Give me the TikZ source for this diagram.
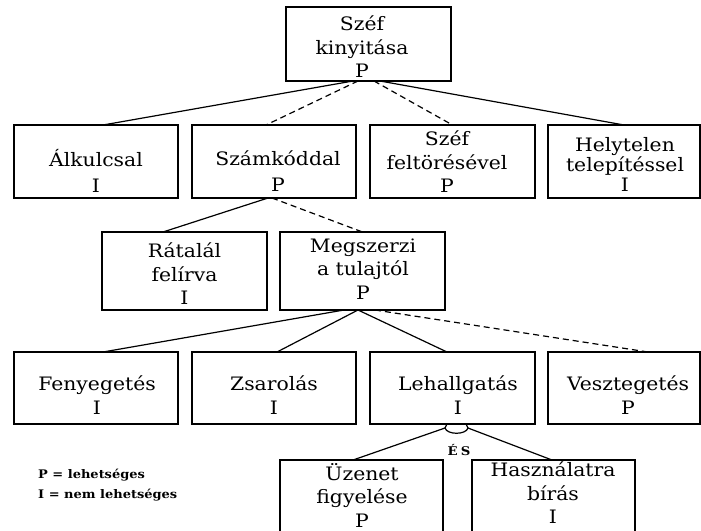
\documentclass[tikz,border=0pt]{standalone}
\usepackage{fontspec}
\setmainfont{DejaVu Serif}[FakeStretch=1.1]
\usetikzlibrary{calc}
\begin{document}
\begin{tikzpicture}[x=1pt,y=-1pt,
  box/.style={draw, line width=1.4pt, rectangle, inner sep=0pt, outer sep=0pt, minimum height=73pt},
  txt/.style={align=center, inner sep=0pt, font=\fontsize{18.5}{23.5}\selectfont},
  txtb/.style={align=center, inner sep=0pt, font=\fontsize{18.5}{26}\selectfont},
  conn/.style={line width=1.2pt},
  dconn/.style={line width=1.2pt, dash pattern=on 6pt off 4pt}]
\fill[white] (0,0) rectangle (701,530);
\useasboundingbox (0,0) rectangle (701,530);
\clip (0,0) rectangle (701,530);
% boxes
\node[box, minimum width=165pt, minimum height=74pt] (top) at (368.5,44) {};
\node[box, minimum width=164pt] (alk) at (96,161.5) {};
\node[box, minimum width=164pt] (szam) at (274,161.5) {};
\node[box, minimum width=165pt] (szef) at (452.5,161.5) {};
\node[box, minimum width=152pt] (hely) at (624,161.5) {};
\node[box, minimum width=165pt, minimum height=78pt] (rat) at (184.5,271) {};
\node[box, minimum width=165pt, minimum height=78pt] (meg) at (362.5,271) {};
\node[box, minimum width=164pt, minimum height=72pt] (feny) at (96,388) {};
\node[box, minimum width=164pt, minimum height=72pt] (zsar) at (274,388) {};
\node[box, minimum width=165pt, minimum height=72pt] (leh) at (452.5,388) {};
\node[box, minimum width=152pt, minimum height=72pt] (veszt) at (624,388) {};
\node[box, minimum width=163pt, minimum height=100pt] (uz) at (361.5,510) {};
\node[box, minimum width=163pt, minimum height=100pt] (hasz) at (553.5,510) {};
% texts
\node[txt] (ttop) at (362,47) {Széf\\kinyitása\\P};
\node[txtb] (talk) at (96,171) {Álkulcsal\\I};
\node[txtb] (tszam) at (278,171) {Számkóddal\\P};
\node[txt] (tszef) at (447,162) {Széf\\feltörésével\\P};
\node[txt, font=\fontsize{18.5}{20}\selectfont] (thely) at (625,164) {Helytelen\\telepítéssel\\I};
\node[txt] (trat) at (184.5,274) {Rátalál\\felírva\\I};
\node[txt] (tmeg) at (363,269) {Megszerzi\\a tulajtól\\P};
\node[txt] (tfeny) at (97,395) {Fenyegetés\\I};
\node[txt] (tzsar) at (274,395) {Zsarolás\\I};
\node[txt] (tleh) at (458,395) {Lehallgatás\\I};
\node[txt] (tveszt) at (628,395) {Vesztegetés\\P};
\node[txt] (tuz) at (362,495) {Üzenet\\figyelése\\P};
\node[txt] (thasz) at (553,493) {Használatra\\bírás\\I};
% legend and label
\node[align=left, anchor=west, inner sep=0pt, font=\bfseries\fontsize{11.8}{20}\selectfont] (legend) at (38,485) {P = lehetséges\\I = nem lehetséges};
\node[inner sep=0pt, font=\bfseries\fontsize{12}{14}\selectfont] (es) at (459,450) {É\kern3pt S};
% connectors
\draw[conn] ([xshift=-15.5pt]top.south) -- ([xshift=7pt]alk.north);
\draw[dconn] ([xshift=-10.5pt]top.south) -- ([xshift=-8pt]szam.north);
\draw[dconn] ([xshift=5.5pt]top.south) -- (szef.north);
\draw[conn] ([xshift=11.5pt]top.south) -- (hely.north);
\draw[conn] ([xshift=-6pt]szam.south) -- ([xshift=-21.5pt]rat.north);
\draw[dconn] ([xshift=-2pt]szam.south) -- (meg.north);
\draw[conn] ([xshift=-18.5pt]meg.south) -- ([xshift=7pt]feny.north);
\draw[conn] ([xshift=-4.5pt]meg.south) -- ([xshift=3pt]zsar.north);
\draw[conn] ([xshift=-4.5pt]meg.south) -- ([xshift=-5.5pt]leh.north);
\draw[dconn] ([xshift=12.5pt]meg.south) -- ([xshift=24pt]veszt.north);
% AND arc
\coordinate (andL) at ([xshift=-7.5pt,yshift=-4pt]leh.south);
\coordinate (andR) at ([xshift=15.5pt,yshift=-4pt]leh.south);
\draw[conn] ([xshift=-5.5pt]leh.south) -- (andL) .. controls +(2,7) and +(-2,7) .. (andR) -- ([xshift=13.5pt]leh.south);
\draw[conn] (andL) -- ([xshift=-8.5pt]uz.north);
\draw[conn] (andR) -- ([xshift=-1.5pt]hasz.north);
\end{tikzpicture}
\end{document}
